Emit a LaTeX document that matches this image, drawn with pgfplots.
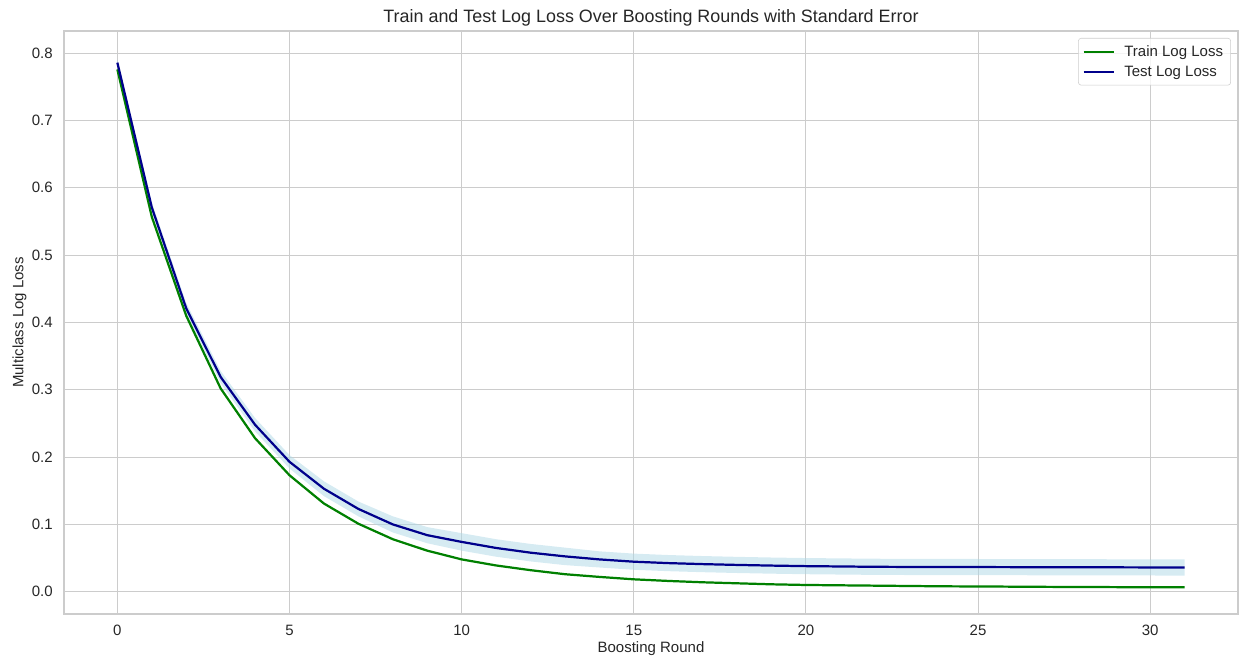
\documentclass[border=0pt]{standalone}
\usepackage{fontspec}
\setmainfont{Liberation Sans}
\usepackage{pgfplots}
\pgfplotsset{compat=1.18}
\usepackage{pgfplotstable}
\usepgfplotslibrary{fillbetween}
\definecolor{txt}{HTML}{262626}
\definecolor{gridc}{HTML}{CCCCCC}
\definecolor{trainc}{HTML}{008000}
\definecolor{testc}{HTML}{00008B}
\definecolor{bandc}{HTML}{ADD8E6}

\pgfplotstableread{
x train test lo hi
0 0.776 0.786 0.781 0.791
1 0.557 0.571 0.564 0.578
2 0.410 0.421 0.413 0.429
3 0.302 0.319 0.310 0.328
4 0.228 0.248 0.238 0.258
5 0.173 0.193 0.183 0.203
6 0.131 0.153 0.142 0.164
7 0.101 0.123 0.112 0.134
8 0.078 0.100 0.088 0.112
9 0.061 0.084 0.072 0.096
10 0.048 0.074 0.061 0.087
11 0.039 0.065 0.052 0.078
12 0.032 0.058 0.045 0.071
13 0.026 0.0525 0.0395 0.0655
14 0.022 0.048 0.036 0.060
15 0.0184 0.0446 0.0326 0.0566
16 0.016 0.0425 0.0305 0.0545
17 0.014 0.041 0.029 0.053
18 0.0125 0.0398 0.0278 0.0518
19 0.011 0.0388 0.0268 0.0508
20 0.010 0.038 0.026 0.050
21 0.0095 0.0375 0.0255 0.0495
22 0.009 0.037 0.025 0.049
23 0.0085 0.0368 0.0248 0.0488
24 0.008 0.0367 0.0247 0.0487
25 0.0078 0.0366 0.0246 0.0486
26 0.0075 0.0365 0.0245 0.0485
27 0.0072 0.0364 0.0244 0.0484
28 0.007 0.0363 0.0243 0.0483
29 0.0068 0.0362 0.0242 0.0482
30 0.0066 0.0361 0.0241 0.0481
31 0.0065 0.036 0.024 0.048
}\lossdata

\begin{document}
\begin{tikzpicture}
\begin{axis}[
  at={(0,0)}, anchor=south west,
  scale only axis, width=845.28pt, height=419.76pt,
  xmin=-1.55, xmax=32.55, ymin=-0.0331, ymax=0.833,
  xtick={0,5,10,15,20,25,30},
  ytick={0,0.1,0.2,0.3,0.4,0.5,0.6,0.7,0.8},
  yticklabel={\pgfmathprintnumber[fixed,fixed zerofill,precision=1]{\tick}},
  /pgf/number format/assume math mode=true,
  grid=major,
  major grid style={gridc, line width=0.75pt},
  axis line style={gridc, line width=0.9pt},
  major tick length=0pt,
  tick label style={font=\fontsize{10.8}{13}\selectfont, text=txt},
  yticklabel style={inner sep=0pt, anchor=east, xshift=-7.9pt},
  xticklabel style={inner sep=0pt, anchor=north, yshift=-7.9pt},
  xlabel={Boosting Round},
  ylabel={Multiclass Log Loss},
  label style={font=\fontsize{10.8}{13}\selectfont, text=txt},
  xlabel style={at={(axis description cs:0.5,-0.0667)}, anchor=base},
  ylabel style={at={(axis description cs:-0.0345,0.5)}, anchor=base},
  every axis title shift=0pt,
  title={Train and Test Log Loss Over Boosting Rounds with Standard Error},
  title style={font=\fontsize{12.9}{15}\selectfont, text=txt, at={(axis description cs:0.5,1.0148)}, anchor=base},
  legend style={at={(axis description cs:0.994,0.988)}, anchor=north east,
    draw=gridc, rounded corners=2pt, fill=white, fill opacity=0.8, text opacity=1,
    font=\fontsize{10.8}{13}\selectfont, text=txt, row sep=1.5pt, inner xsep=3pt, inner ysep=3pt,
    nodes={inner xsep=2.5pt}},
  legend cell align=left,
  legend image code/.code={\draw[#1, line width=1.6pt] (0pt,0pt) -- (22pt,0pt); \path (26pt,0pt);},
]
\addplot[name path=lo, draw=none, forget plot] table[x=x, y=lo] {\lossdata};
\addplot[name path=hi, draw=none, forget plot] table[x=x, y=hi] {\lossdata};
\addplot[bandc, fill opacity=0.5, draw=none, forget plot] fill between[of=lo and hi];
\addplot[trainc, line width=1.6pt] table[x=x, y=train] {\lossdata};
\addlegendentry{Train Log Loss}
\addplot[testc, line width=1.6pt] table[x=x, y=test] {\lossdata};
\addlegendentry{Test Log Loss}
\end{axis}
\pgfresetboundingbox
\path[use as bounding box] (-46.08pt,-30.96pt) rectangle (846pt,442.08pt);
\end{tikzpicture}
\end{document}
